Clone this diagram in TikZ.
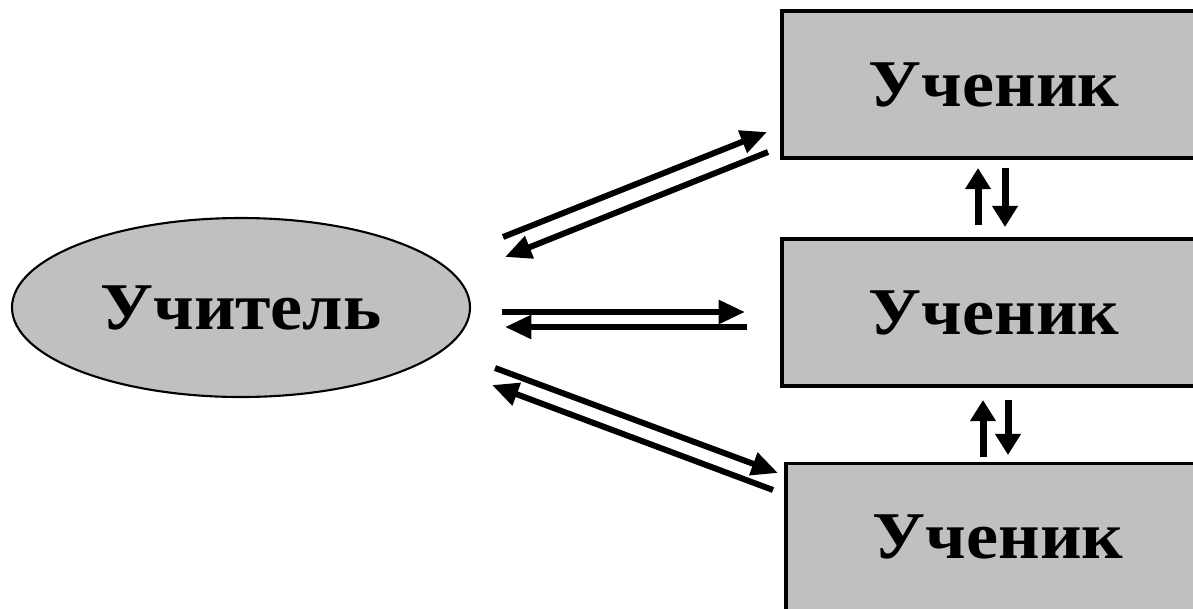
\documentclass[tikz,border=0pt]{standalone}
\usepackage{fontspec}
\setmainfont[FakeStretch=1.08]{Liberation Serif}
\usetikzlibrary{arrows.meta}
\usetikzlibrary{shapes.geometric}
\definecolor{fillgray}{RGB}{192,192,192}

\begin{document}
\begin{tikzpicture}[
		line join=miter,
		every node/.style={font=\fontsize{19}{21}\selectfont\bfseries},
		pupil/.style={draw, line width=0.9pt, fill=fillgray,
				minimum width=4.24cm, minimum height=1.47cm, inner sep=0pt},
		teacher/.style={ellipse, draw, line width=0.6pt, fill=fillgray,
				minimum width=4.58cm, minimum height=1.79cm, inner sep=0pt},
		link/.style={line width=1.7pt, -{Triangle[length=7.5pt,width=6.5pt]}},
		swap/.style={line width=2pt, -{Triangle[length=6pt,width=7pt]}}
	]
	% Page
	\clip (0,0) rectangle (11.93,6.08);

	% Teacher and pupils
	\node[teacher] (T) at (2.41,3.005) {Учитель};
	\node[pupil] (P1) at (9.94,5.235) {Ученик};
	\node[pupil] (P2) at (9.94,2.955) {Ученик};
	\node[pupil] (P3) at (9.98,0.71) {Ученик};

	% Ends of the links
	\coordinate (A1) at (5.03,3.71);
	\coordinate (A2) at (7.67,4.76);
	\coordinate (B1) at (7.68,4.56);
	\coordinate (B2) at (5.05,3.51);

	\coordinate (C1) at (5.02,2.96);
	\coordinate (C2) at (7.45,2.96);
	\coordinate (D1) at (7.47,2.81);
	\coordinate (D2) at (5.05,2.81);

	\coordinate (E1) at (4.95,2.40);
	\coordinate (E2) at (7.78,1.35);
	\coordinate (F1) at (7.73,1.18);
	\coordinate (F2) at (4.92,2.23);

	% Teacher <-> pupils
	\foreach \s/\e in {A1/A2,B1/B2,C1/C2,D1/D2,E1/E2,F1/F2}{
			\draw[link] (\s) -- (\e);
		}

	% Pupil <-> pupil
	\coordinate (U1) at (9.78,3.83);
	\coordinate (U2) at (9.78,4.40);
	\coordinate (V1) at (10.05,4.40);
	\coordinate (V2) at (10.05,3.81);
	\coordinate (U3) at (9.83,1.51);
	\coordinate (U4) at (9.83,2.08);
	\coordinate (V3) at (10.08,2.08);
	\coordinate (V4) at (10.08,1.53);

	\foreach \s/\e in {U1/U2,V1/V2,U3/U4,V3/V4}{
			\draw[swap] (\s) -- (\e);
		}
\end{tikzpicture}
\end{document}
